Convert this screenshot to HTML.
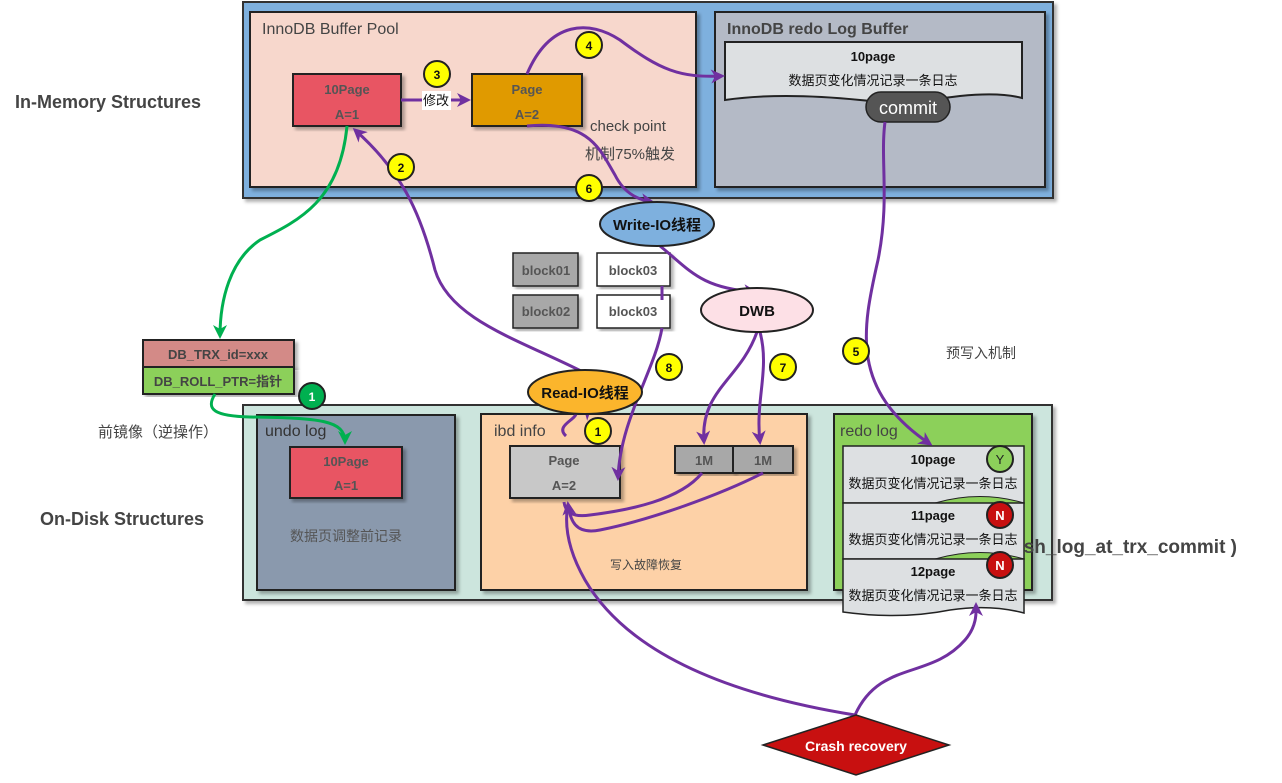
<!DOCTYPE html>
<html><head><meta charset="utf-8"><style>
html,body{margin:0;padding:0;background:#fff;}
svg text{font-family:"Liberation Sans","Noto Sans CJK SC",sans-serif;}
</style></head><body>
<svg width="1282" height="778" viewBox="0 0 1282 778" xmlns="http://www.w3.org/2000/svg">
<defs>
<marker id="ap" markerWidth="16" markerHeight="16" refX="11" refY="7" orient="auto" markerUnits="userSpaceOnUse"><path d="M0,0 L14,7 L0,14 L4,7 Z" fill="#7030a0"/></marker>
<marker id="ag" markerWidth="16" markerHeight="16" refX="11" refY="7" orient="auto" markerUnits="userSpaceOnUse"><path d="M0,0 L14,7 L0,14 L4,7 Z" fill="#00b050"/></marker>
<filter id="sh" x="-5%" y="-5%" width="115%" height="115%"><feDropShadow dx="3" dy="3" stdDeviation="1.5" flood-color="#000" flood-opacity="0.3"/></filter>
</defs>

<!-- top container -->
<rect x="243" y="2" width="810" height="196" fill="#7eb0de" stroke="#333" stroke-width="2" filter="url(#sh)"/>
<rect x="250" y="12" width="446" height="175" fill="#f7d7cc" stroke="#222" stroke-width="2" filter="url(#sh)"/>
<rect x="715" y="12" width="330" height="175" fill="#b4bac6" stroke="#222" stroke-width="2" filter="url(#sh)"/>
<text x="262" y="34" font-size="16" fill="#444">InnoDB Buffer Pool</text>
<text x="727" y="34" font-size="16" fill="#444" font-weight="bold">InnoDB redo Log Buffer</text>
<path d="M725,42 L1022,42 L1022,98 Q1000,92 960,96 Q900,104 860,100 Q780,92 725,100 Z" fill="#dde0e2" stroke="#222" stroke-width="2"/>
<text x="873" y="61" font-size="13" font-weight="bold" text-anchor="middle" fill="#111">10page</text>
<text x="873" y="85" font-size="13" text-anchor="middle" fill="#111">数据页变化情况记录一条日志</text>
<rect x="866" y="92" width="84" height="30" rx="15" fill="#555" stroke="#222" stroke-width="1.5"/>
<text x="908" y="114" font-size="18" text-anchor="middle" fill="#fff">commit</text>

<rect x="293" y="74" width="108" height="52" fill="#e85464" stroke="#222" stroke-width="2" filter="url(#sh)"/>
<text x="347" y="94" font-size="13" font-weight="bold" text-anchor="middle" fill="#555">10Page</text>
<text x="347" y="119" font-size="13" font-weight="bold" text-anchor="middle" fill="#555">A=1</text>
<rect x="472" y="74" width="110" height="52" fill="#e09a00" stroke="#222" stroke-width="2" filter="url(#sh)"/>
<text x="527" y="94" font-size="13" font-weight="bold" text-anchor="middle" fill="#555">Page</text>
<text x="527" y="119" font-size="13" font-weight="bold" text-anchor="middle" fill="#555">A=2</text>
<text x="590" y="131" font-size="15" fill="#444">check point</text>
<text x="585" y="159" font-size="15" fill="#444">机制75%触发</text>

<text x="15" y="108" font-size="18" font-weight="bold" fill="#444">In-Memory Structures</text>
<text x="40" y="525" font-size="18" font-weight="bold" fill="#444">On-Disk Structures</text>
<text x="98" y="437" font-size="15" fill="#444">前镜像（逆操作）</text>
<text x="946" y="358" font-size="14" fill="#444">预写入机制</text>

<!-- bottom container -->
<rect x="243" y="405" width="809" height="195" fill="#cce5dd" stroke="#333" stroke-width="2" filter="url(#sh)"/>
<rect x="257" y="415" width="198" height="175" fill="#8a99ad" stroke="#222" stroke-width="2" filter="url(#sh)"/>
<text x="265" y="436" font-size="16" fill="#333">undo log</text>
<rect x="290" y="447" width="112" height="51" fill="#e85464" stroke="#222" stroke-width="2" filter="url(#sh)"/>
<text x="346" y="466" font-size="13" font-weight="bold" text-anchor="middle" fill="#555">10Page</text>
<text x="346" y="490" font-size="13" font-weight="bold" text-anchor="middle" fill="#555">A=1</text>
<text x="346" y="541" font-size="14" text-anchor="middle" fill="#555">数据页调整前记录</text>

<rect x="481" y="414" width="326" height="176" fill="#fdd1a7" stroke="#222" stroke-width="2" filter="url(#sh)"/>
<text x="494" y="436" font-size="16" fill="#444">ibd  info</text>
<rect x="510" y="446" width="110" height="52" fill="#c8c8c8" stroke="#222" stroke-width="2" filter="url(#sh)"/>
<text x="564" y="465" font-size="13" font-weight="bold" text-anchor="middle" fill="#555">Page</text>
<text x="564" y="490" font-size="13" font-weight="bold" text-anchor="middle" fill="#555">A=2</text>
<rect x="675" y="446" width="58" height="27" fill="#a8a8a8" stroke="#222" stroke-width="2" filter="url(#sh)"/>
<rect x="733" y="446" width="60" height="27" fill="#a8a8a8" stroke="#222" stroke-width="2" filter="url(#sh)"/>
<text x="704" y="465" font-size="13" font-weight="bold" text-anchor="middle" fill="#555">1M</text>
<text x="763" y="465" font-size="13" font-weight="bold" text-anchor="middle" fill="#555">1M</text>
<text x="646" y="569" font-size="12" text-anchor="middle" fill="#444">写入故障恢复</text>

<rect x="834" y="414" width="198" height="176" fill="#8cd05a" stroke="#222" stroke-width="2" filter="url(#sh)"/>
<text x="840" y="436" font-size="16" fill="#444">redo log</text>
<text x="1237" y="553" font-size="19" font-weight="bold" text-anchor="end" fill="#444">innodb_flush_log_at_trx_commit )</text>
<rect x="843" y="446" width="181" height="57" fill="#dde0e2" stroke="#222" stroke-width="1.5"/>
<path d="M935,503 Q980,490 1024,503 Z" fill="#8cd05a" stroke="#222" stroke-width="1"/>
<rect x="843" y="503" width="181" height="56" fill="#dde0e2" stroke="#222" stroke-width="1.5"/>
<path d="M935,559 Q980,546 1024,559 Z" fill="#8cd05a" stroke="#222" stroke-width="1"/>
<path d="M843,559 L1024,559 L1024,613 Q990,604 950,610 Q900,620 843,612 Z" fill="#dde0e2" stroke="#222" stroke-width="1.5"/>
<text x="933" y="464" font-size="13" font-weight="bold" text-anchor="middle" fill="#111">10page</text>
<text x="933" y="488" font-size="13" text-anchor="middle" fill="#111">数据页变化情况记录一条日志</text>
<text x="933" y="520" font-size="13" font-weight="bold" text-anchor="middle" fill="#111">11page</text>
<text x="933" y="544" font-size="13" text-anchor="middle" fill="#111">数据页变化情况记录一条日志</text>
<text x="933" y="576" font-size="13" font-weight="bold" text-anchor="middle" fill="#111">12page</text>
<text x="933" y="600" font-size="13" text-anchor="middle" fill="#111">数据页变化情况记录一条日志</text>
<circle cx="1000" cy="459" r="13" fill="#8cd05a" stroke="#222" stroke-width="2"/><text x="1000" y="464" font-size="13" text-anchor="middle" fill="#222">Y</text>
<circle cx="1000" cy="515" r="13" fill="#c81010" stroke="#222" stroke-width="2"/><text x="1000" y="520" font-size="13" font-weight="bold" text-anchor="middle" fill="#fff">N</text>
<circle cx="1000" cy="565" r="13" fill="#c81010" stroke="#222" stroke-width="2"/><text x="1000" y="570" font-size="13" font-weight="bold" text-anchor="middle" fill="#fff">N</text>

<!-- DB_TRX -->
<rect x="143" y="340" width="151" height="27" fill="#d38a87" stroke="#222" stroke-width="2" filter="url(#sh)"/>
<rect x="143" y="367" width="151" height="27" fill="#8cd05a" stroke="#222" stroke-width="2" filter="url(#sh)"/>
<text x="218" y="359" font-size="13" font-weight="bold" text-anchor="middle" fill="#444">DB_TRX_id=xxx</text>
<text x="218" y="386" font-size="13" font-weight="bold" text-anchor="middle" fill="#444">DB_ROLL_PTR=指针</text>

<!-- blocks -->
<rect x="513" y="253" width="65" height="33" fill="#a8a8a8" stroke="#222" stroke-width="1.5" filter="url(#sh)"/>
<rect x="597" y="253" width="73" height="33" fill="#fff" stroke="#222" stroke-width="1.5" filter="url(#sh)"/>
<rect x="513" y="295" width="65" height="33" fill="#a8a8a8" stroke="#222" stroke-width="1.5" filter="url(#sh)"/>
<rect x="597" y="295" width="73" height="33" fill="#fff" stroke="#222" stroke-width="1.5" filter="url(#sh)"/>
<text x="546" y="275" font-size="13" font-weight="bold" text-anchor="middle" fill="#555">block01</text>
<text x="633" y="275" font-size="13" font-weight="bold" text-anchor="middle" fill="#555">block03</text>
<text x="546" y="316" font-size="13" font-weight="bold" text-anchor="middle" fill="#555">block02</text>
<text x="633" y="316" font-size="13" font-weight="bold" text-anchor="middle" fill="#555">block03</text>

<!-- connectors -->
<g fill="none" stroke-width="3">
<path d="M401,100 L468,100" stroke="#7030a0" marker-end="url(#ap)"/>
<path d="M527,74 C550,20 590,20 620,40 C660,70 680,78 722,76" stroke="#7030a0" marker-end="url(#ap)"/>
<path d="M527,126 C590,120 600,150 615,175 C625,195 640,200 652,202" stroke="#7030a0" marker-end="url(#ap)"/>
<path d="M583,372 C520,340 450,320 435,270 C420,210 400,170 355,130" stroke="#7030a0" marker-end="url(#ap)"/>
<path d="M660,246 C690,270 700,288 755,292" stroke="#7030a0" marker-end="url(#ap)"/>
<path d="M662,286 L662,300 M662,328 C655,370 620,420 618,478" stroke="#7030a0" marker-end="url(#ap)"/>
<path d="M757,332 C740,380 700,390 704,442" stroke="#7030a0" marker-end="url(#ap)"/>
<path d="M760,332 C770,370 755,400 760,442" stroke="#7030a0" marker-end="url(#ap)"/>
<path d="M566,436 C555,426 575,420 576,414 C580,408 588,410 590,408" stroke="#7030a0" marker-end="url(#ap)"/>
<path d="M702,473 C680,500 630,510 590,515 C570,518 565,510 564,502" stroke="#7030a0"/>
<path d="M763,473 C720,495 650,520 600,530 C575,535 570,520 568,504" stroke="#7030a0" marker-end="url(#ap)"/>
<path d="M885,122 C880,160 890,200 878,260 C862,330 850,390 930,444" stroke="#7030a0" marker-end="url(#ap)"/>
<path d="M855,715 C700,690 620,640 585,580 C565,545 565,520 568,504" stroke="#7030a0"/>
<path d="M855,715 C880,660 930,680 965,640 C978,625 976,610 976,605" stroke="#7030a0" marker-end="url(#ap)"/>
<path d="M347,126 C340,200 300,220 260,240 C230,260 220,300 220,336" stroke="#00b050" marker-end="url(#ag)"/>
<path d="M215,394 C205,410 215,416 250,417 C320,418 345,420 345,442" stroke="#00b050" marker-end="url(#ag)"/>
</g>
<rect x="422" y="91" width="29" height="19" fill="#fff"/>
<text x="436" y="105" font-size="13" text-anchor="middle" fill="#111">修改</text>

<!-- ellipses -->
<ellipse cx="657" cy="224" rx="57" ry="22" fill="#7eb0de" stroke="#222" stroke-width="2"/>
<text x="657" y="230" font-size="15" font-weight="bold" text-anchor="middle" fill="#111">Write-IO线程</text>
<ellipse cx="757" cy="310" rx="56" ry="22" fill="#fde0e6" stroke="#222" stroke-width="2"/>
<text x="757" y="316" font-size="15" font-weight="bold" text-anchor="middle" fill="#111">DWB</text>
<ellipse cx="585" cy="392" rx="57" ry="22" fill="#fbb52c" stroke="#222" stroke-width="2"/>
<text x="585" y="398" font-size="15" font-weight="bold" text-anchor="middle" fill="#111">Read-IO线程</text>

<!-- crash recovery -->
<path d="M856,715 L949,745 L856,775 L763,745 Z" fill="#c81010" stroke="#222" stroke-width="1.5"/>
<text x="856" y="751" font-size="14" font-weight="bold" text-anchor="middle" fill="#fff">Crash recovery</text>

<!-- badges -->
<g font-size="12" font-weight="bold" text-anchor="middle" fill="#111">
<circle cx="437" cy="74" r="13" fill="#ffff00" stroke="#222" stroke-width="2"/><text x="437" y="79">3</text>
<circle cx="589" cy="45" r="13" fill="#ffff00" stroke="#222" stroke-width="2"/><text x="589" y="50">4</text>
<circle cx="401" cy="167" r="13" fill="#ffff00" stroke="#222" stroke-width="2"/><text x="401" y="172">2</text>
<circle cx="589" cy="188" r="13" fill="#ffff00" stroke="#222" stroke-width="2"/><text x="589" y="193">6</text>
<circle cx="856" cy="351" r="13" fill="#ffff00" stroke="#222" stroke-width="2"/><text x="856" y="356">5</text>
<circle cx="783" cy="367" r="13" fill="#ffff00" stroke="#222" stroke-width="2"/><text x="783" y="372">7</text>
<circle cx="669" cy="367" r="13" fill="#ffff00" stroke="#222" stroke-width="2"/><text x="669" y="372">8</text>
<circle cx="598" cy="431" r="13" fill="#ffff00" stroke="#222" stroke-width="2"/><text x="598" y="436">1</text>
<circle cx="312" cy="396" r="13" fill="#00b050" stroke="#222" stroke-width="2"/><text x="312" y="401" fill="#fff">1</text>
</g>
</svg>
</body></html>
